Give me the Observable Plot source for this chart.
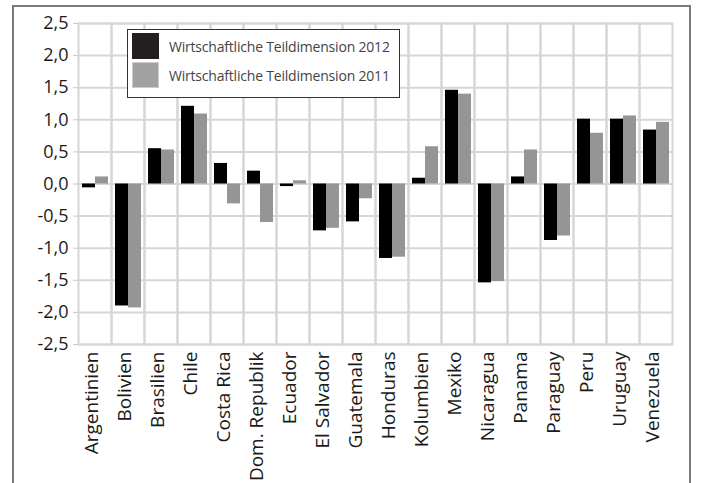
<!DOCTYPE html>
<html>
<head>
<meta charset="utf-8">
<script src="https://cdn.jsdelivr.net/npm/d3@7"></script>
<script src="https://cdn.jsdelivr.net/npm/@observablehq/plot@0.6"></script>
<style>
  html, body { margin: 0; padding: 0; background: white; overflow: hidden; }
  #wrap { position: relative; width: 701px; height: 483px; font-family: "Open Sans", sans-serif; }
  #border { position: absolute; left: 12px; top: 5px; width: 675px; height: 500px; border: 2px solid #7a7a7a; pointer-events: none; }
  #legend { position: absolute; left: 127px; top: 29px; width: 271px; height: 67px; border: 1px solid #333; background: white; }
  .item { position: absolute; left: 4px; display: flex; align-items: center; }
  .sw { width: 27px; height: 26px; box-sizing: border-box; }
  .lab { margin-left: 10px; font-size: 14px; color: #444; white-space: nowrap; letter-spacing: -0.2px; }
</style>
</head>
<body>
<div id="wrap"><div id="chart"></div><div id="legend"></div><div id="border"></div></div>
<script>
const countries = ["Argentinien","Bolivien","Brasilien","Chile","Costa Rica","Dom. Republik","Ecuador","El Salvador","Guatemala","Honduras","Kolumbien","Mexiko","Nicaragua","Panama","Paraguay","Peru","Uruguay","Venezuela"];
const values2012 = [-0.06, -1.90, 0.55, 1.21, 0.32, 0.20, -0.04, -0.73, -0.59, -1.16, 0.09, 1.46, -1.54, 0.11, -0.88, 1.01, 1.01, 0.84];
const values2011 = [0.11, -1.93, 0.53, 1.09, -0.31, -0.60, 0.05, -0.69, -0.23, -1.14, 0.58, 1.40, -1.52, 0.53, -0.81, 0.79, 1.06, 0.96];
const seriesKeys = ["2012", "2011"];
const seriesNames = ["Wirtschaftliche Teildimension 2012", "Wirtschaftliche Teildimension 2011"];
const seriesColors = ["#000000", "#959595"];
const yTicks = [-2.5, -2, -1.5, -1, -0.5, 0, 0.5, 1, 1.5, 2, 2.5];

const data = countries.flatMap((c, i) => [
  {country: c, series: seriesKeys[0], value: values2012[i]},
  {country: c, series: seriesKeys[1], value: values2011[i]}
]);
const fmt = d => d.toFixed(1).replace(".", ",");

const chart = Plot.plot({
  width: 701,
  height: 483,
  marginLeft: 70,
  marginRight: 21,
  marginTop: 23,
  marginBottom: 139,
  style: {fontFamily: "'Open Sans', sans-serif", fontSize: "18px", color: "#1a1a1a", background: "white"},
  fx: {domain: countries, padding: 0, label: null},
  x: {domain: seriesKeys, paddingInner: 0, paddingOuter: 0.25, axis: null},
  y: {domain: [-2.5, 2.5], label: null},
  color: {domain: seriesKeys, range: seriesColors},
  marks: [
    Plot.gridY(yTicks, {stroke: "#d6d6d6", strokeOpacity: 1, strokeWidth: 2}),
    Plot.frame({stroke: "#d6d6d6", strokeWidth: 2}),
    Plot.barY(data, {fx: "country", x: "series", y: "value", fill: "series"}),
    Plot.axisY(yTicks, {tickFormat: fmt, tickSize: 5, tickPadding: 5, stroke: "#c8c8c8", fill: "#1a1a1a", fontSize: 18, label: null}),
    Plot.axisFx({anchor: "bottom", tickRotate: -90, tickSize: 0, tickPadding: 7, dx: -3, fontSize: 19, fill: "#1a1a1a", label: null})
  ]
});
document.getElementById("chart").appendChild(chart);

const legend = document.getElementById("legend");
seriesNames.forEach((name, i) => {
  const item = document.createElement("div");
  item.className = "item";
  item.style.top = (3 + i * 29) + "px";
  const sw = document.createElement("div");
  sw.className = "sw";
  sw.style.background = i === 0 ? "#231f20" : "#a2a2a2";
  if (i === 1) sw.style.border = "1px solid #ccc";
  const lab = document.createElement("span");
  lab.className = "lab";
  lab.textContent = name;
  item.appendChild(sw);
  item.appendChild(lab);
  legend.appendChild(item);
});
</script>
</body>
</html>
